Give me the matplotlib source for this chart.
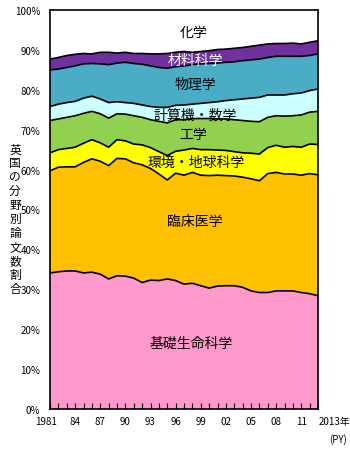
import numpy as np
import matplotlib
matplotlib.use("Agg")
import matplotlib.pyplot as plt
import matplotlib.transforms as mtransforms

plt.rcParams['font.family'] = ['Noto Sans CJK JP', 'DejaVu Sans']

years = np.arange(1981, 2014)

# upper edge (cumulative %) of each field's band
cum_basic = [34.1, 34.4, 34.6, 34.6, 34.1, 34.3, 33.8, 32.6, 33.4, 33.3, 32.8,
             31.7, 32.3, 32.2, 32.6, 32.2, 31.3, 31.5, 30.9, 30.3, 30.8, 30.9,
             30.9, 30.5, 29.6, 29.2, 29.2, 29.6, 29.6, 29.6, 29.2, 28.9, 28.4]
cum_clinical = [59.7, 60.6, 60.7, 60.7, 61.8, 62.7, 62.1, 61.0, 62.8, 62.7, 61.7,
                61.2, 60.3, 58.9, 57.4, 59.1, 58.6, 59.3, 58.6, 58.5, 58.6, 58.5,
                58.4, 58.1, 57.7, 57.2, 59.0, 59.3, 58.9, 58.9, 58.6, 59.0, 58.7]
cum_env = [64.2, 65.0, 65.3, 65.6, 66.6, 67.5, 66.7, 65.6, 67.5, 67.2, 66.4,
           66.2, 65.5, 64.5, 63.5, 64.6, 64.9, 65.3, 65.0, 65.0, 64.9, 64.8,
           64.5, 64.2, 64.1, 63.9, 65.5, 66.1, 65.6, 65.8, 65.6, 66.4, 66.3]
cum_eng = [72.3, 72.7, 73.1, 73.5, 74.1, 74.6, 74.0, 72.9, 74.0, 73.9, 73.5,
           73.1, 72.5, 72.1, 71.7, 72.5, 72.5, 72.8, 72.8, 72.8, 72.7, 72.7,
           72.5, 72.3, 72.1, 72.0, 73.1, 73.5, 73.4, 73.5, 73.7, 74.4, 74.6]
cum_comp = [75.8, 76.4, 76.8, 77.1, 77.9, 78.4, 77.7, 76.8, 77.0, 76.8, 76.6,
            76.2, 75.8, 75.6, 75.6, 76.1, 76.2, 76.4, 76.6, 76.8, 77.0, 77.3,
            77.5, 77.7, 77.9, 78.1, 78.7, 78.7, 78.7, 79.0, 79.2, 79.8, 80.2]
cum_phys = [85.0, 85.2, 85.6, 86.0, 86.5, 86.6, 86.5, 86.3, 86.7, 86.9, 86.6,
            86.4, 86.0, 85.6, 85.4, 85.8, 86.0, 86.3, 86.5, 86.6, 86.7, 86.9,
            87.0, 87.3, 87.5, 87.7, 88.1, 88.4, 88.4, 88.4, 88.4, 88.6, 89.0]
cum_mat = [87.7, 88.1, 88.6, 88.9, 89.1, 89.0, 89.4, 89.4, 89.2, 89.4, 89.1,
           89.1, 89.0, 89.0, 89.1, 89.4, 89.6, 89.4, 89.6, 89.8, 90.1, 90.2,
           90.4, 90.6, 90.9, 91.2, 91.5, 91.6, 91.6, 91.7, 91.5, 91.9, 92.3]
cum_chem = [100.0] * 33

fields = ['基礎生命科学', '臨床医学', '環境・地球科学', '工学',
          '計算機・数学', '物理学', '材料科学', '化学']
colors = ['#FF99CC', '#FFC000', '#FFFF00', '#92D050',
          '#CCFFFF', '#4BACC6', '#7030A0', '#FFFFFF']

cum = np.array([cum_basic, cum_clinical, cum_env, cum_eng,
                cum_comp, cum_phys, cum_mat, cum_chem])
shares = np.diff(np.vstack([np.zeros(len(years)), cum]), axis=0)

fig = plt.figure(figsize=(3.5, 4.56), dpi=100)
ax = fig.add_axes([50 / 350, 46 / 456, 268 / 350, 399 / 456])

ax.stackplot(years, shares, colors=colors, edgecolor='none', linewidth=0)
for top in cum[:-1]:
    ax.plot(years, top, color='black', lw=1.2)

ax.set_xlim(1981, 2013)
ax.set_ylim(0, 100)
for s in ax.spines.values():
    s.set_linewidth(1.2)

ax.set_yticks(np.arange(0, 101, 10))
ax.set_yticklabels([f'{v}%' for v in range(0, 101, 10)], fontsize=7)
ax.tick_params(axis='y', length=0, pad=7)

xlabels = []
for y in years:
    if y == 1981:
        xlabels.append('1981')
    elif y == 2013:
        xlabels.append('2013年')
    elif (y - 1981) % 3 == 0:
        xlabels.append(f'{y % 100:02d}')
    else:
        xlabels.append('')
ax.set_xticks(years)
ax.set_xticklabels(xlabels, fontsize=7)
ax.tick_params(axis='x', direction='in', length=4, width=0.8, pad=5)
tl = ax.get_xticklabels()
tl[0].set_transform(tl[0].get_transform() +
                    mtransforms.ScaledTranslation(-4 / 100, 0, fig.dpi_scale_trans))
tl[-1].set_horizontalalignment('left')
tl[-1].set_transform(tl[-1].get_transform() +
                     mtransforms.ScaledTranslation(1 / 100, 0, fig.dpi_scale_trans))

fig.text(347 / 350, 1 - 440 / 456, '(PY)', ha='right', va='center', fontsize=7)

# vertical y-axis title, one character per row
title = '英国の分野別論文数割合'
for i, ch in enumerate(title):
    fig.text(15 / 350, 1 - (150 + i * 13.9) / 456, ch,
             ha='center', va='center', fontsize=8.5)

# band labels
labels = [
    ('化学', 1998.1, 94.5, 'black'),
    ('材料科学', 1998.3, 87.5, 'white'),
    ('物理学', 1998.3, 81.5, 'black'),
    ('計算機・数学', 1998.3, 73.9, 'black'),
    ('工学', 1998.1, 68.9, 'black'),
    ('環境・地球科学', 1998.4, 61.8, 'black'),
    ('臨床医学', 1998.3, 47.2, 'black'),
    ('基礎生命科学', 1997.9, 16.7, 'black'),
]
for txt, x, y, c in labels:
    ax.text(x, y, txt, ha='center', va='center', fontsize=10, color=c)

fig.savefig('out.png', dpi=100, facecolor='white')
